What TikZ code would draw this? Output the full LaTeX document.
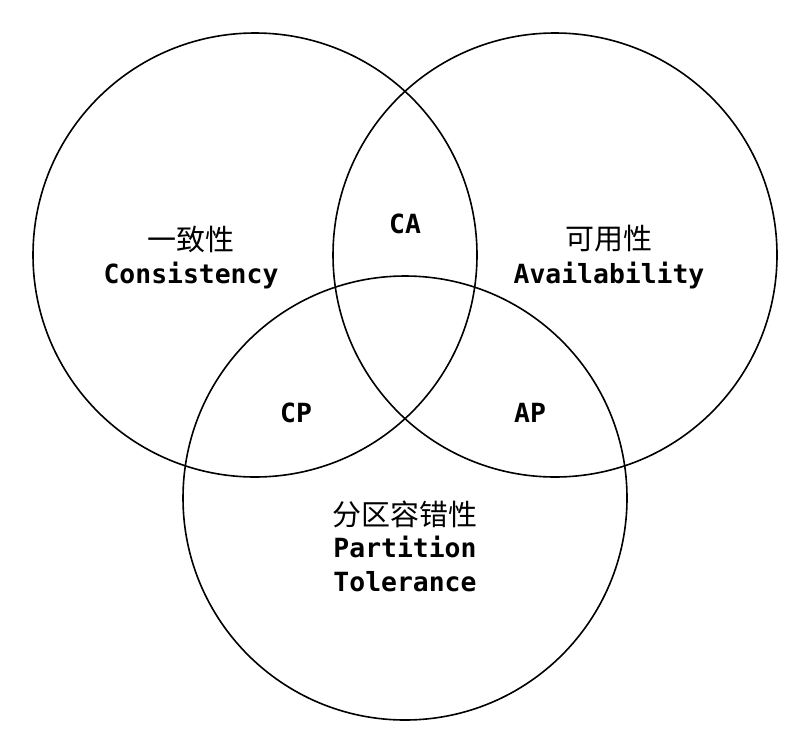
\documentclass[tikz,border=0pt]{standalone}
\usepackage{fontspec}
\setmonofont{DejaVu Sans Mono}
\newfontfamily\cjk{Noto Sans CJK SC}
\begin{document}
\begin{tikzpicture}[x=1pt,y=-1pt,
  ring/.style={draw=black,line width=1.6pt},
  en/.style={font=\ttfamily\bfseries\fontsize{26.4}{30}\selectfont,inner sep=0pt,anchor=base},
  zh/.style={font=\cjk\fontsize{29}{32}\selectfont,inner sep=0pt,anchor=center}]
\useasboundingbox (0,0) rectangle (810,739);
\draw[ring] (255,255) circle[radius=222];
\draw[ring] (555,255) circle[radius=222];
\draw[ring] (405,498) circle[radius=222];
\node[zh] (czh) at (191,239) {一致性};
\node[en] (cen) at (191,283) {Consistency};
\node[zh] (azh) at (609,239) {可用性};
\node[en] (aen) at (609,283) {Availability};
\node[zh] (pzh) at (405,514) {分区容错性};
\node[en] (pen1) at (405,557) {Partition};
\node[en] (pen2) at (405,591) {Tolerance};
\node[en] (ca) at (405,233) {CA};
\node[en] (cp) at (296,422) {CP};
\node[en] (ap) at (530,422) {AP};
\end{tikzpicture}
\end{document}
